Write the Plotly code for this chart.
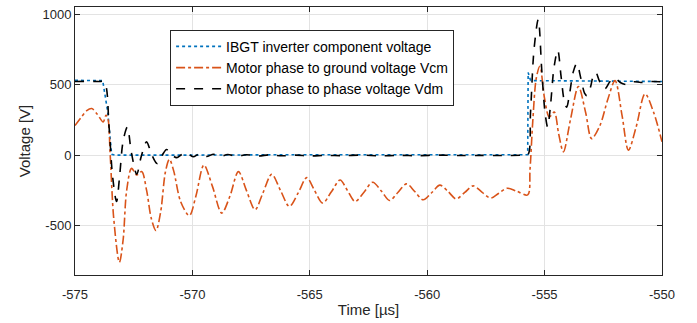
import plotly.graph_objects as go

# IGBT inverter component voltage
t_igbt = [-575, -573.82, -573.6, -573.44, -573.3, -572, -570, -565, -560, -556, -555.72, -555.70, -555.60, -555.5, -554, -552, -550]
v_igbt = [530, 528, 300, 5, 0, 2, 0, 3, 2, 3, 3, 586, 530, 528, 526, 524, 522]

# Motor phase to ground voltage Vcm
t_vcm = [-575, -574.75, -574.5, -574.29, -574.05, -573.8, -573.68, -573.6, -573.5, -573.35, -573.11,
         -572.95, -572.8, -572.59, -572.37, -572.16, -571.95, -571.75, -571.55, -571.35, -571.15,
         -570.98, -570.8, -570.5, -570.13, -569.85, -569.51, -569.15, -568.75, -568.4, -568.04,
         -567.7, -567.33, -567.0, -566.62, -566.25, -565.87, -565.5, -565.13, -564.8, -564.45,
         -564.08, -563.71, -563.4, -563.07, -562.7, -562.32, -561.95, -561.6, -561.25, -560.88,
         -560.52, -560.17, -559.8, -559.46, -559.1, -558.77, -558.4, -558.04, -557.67, -557.3,
         -556.95, -556.59, -556.2, -555.72, -555.62, -555.5, -555.35, -555.2, -555.0, -554.8,
         -554.59, -554.4, -554.2, -553.9, -553.56, -553.25, -553.0, -552.64, -552.3, -552.0,
         -551.7, -551.43, -551.1, -550.72, -550.35, -550]
v_vcm = [210, 265, 315, 330, 290, 235, 282, 260, 0, -450, -760,
         -600, -250, -94, -141, -117, -250, -450, -535, -400, -120,
         -30, -110, -330, -429, -290, -70, -220, -411, -290, -117,
         -250, -387, -270, -136, -250, -364, -270, -160, -250, -340,
         -260, -176, -250, -329, -265, -192, -255, -322, -265, -204,
         -260, -317, -265, -213, -260, -310, -265, -218, -262, -305,
         -270, -235, -255, -282, -100, 250, 550, 630, 400, 270,
         305, 150, 23, 250, 486, 300, 117, 211, 400, 528,
         280, 35, 200, 434, 300, 94]

# Motor phase to phase voltage Vdm
t_vdm = [-575, -574, -573.75, -573.55, -573.4, -573.23, -573.1, -572.95, -572.77, -572.6, -572.37,
         -572.18, -571.95, -571.75, -571.5, -571.3, -571.1, -570.9, -570.67, -570.45, -570.24,
         -569.97, -569.7, -569.4, -569.1, -568.8, -568.5, -568.1, -567.7, -567.2, -566.7, -566.2,
         -565.6, -565.0, -564.3, -563.6, -562.8, -562.0, -561.2, -560.4, -559.5, -558.6, -557.7,
         -556.8, -556.0, -555.72, -555.6, -555.45, -555.27, -555.12, -554.98, -554.87, -554.75,
         -554.6, -554.44, -554.3, -554.16, -554.06, -553.95, -553.78, -553.63, -553.45, -553.3,
         -553.2, -553.05, -552.93, -552.82, -552.65, -552.43, -552.22, -552.0, -551.78, -551.5,
         -551.2, -550.9, -550.5, -550]
v_vdm = [522, 522, 518, 200, -150, -329, -150, 100, 199, 20, -135,
         -10, 94, 10, -60, -5, 40, 5, -18, 5, 16,
         -12, 8, -10, 6, -8, 4, -8, 3, -6, 2, -5,
         0, -6, -2, -4, 0, -5, -2, -4, 0, -3, -2,
         -3, -1, 0, 300, 750, 962, 600, 300, 199, 350,
         620, 744, 560, 380, 340, 420, 590, 650, 540, 440,
         422, 480, 560, 586, 520, 470, 520, 547, 515, 500,
         520, 515, 522, 520]

x_ticks = [-575, -570, -565, -560, -555, -550]
y_ticks = [-500, 0, 500, 1000]

font_family = "Liberation Sans, Arial, sans-serif"
axis_color = "#262626"

fig = go.Figure()
fig.add_trace(go.Scatter(x=t_igbt, y=v_igbt, mode="lines",
                         name="IBGT inverter component voltage",
                         line=dict(color="#0072BD", width=1.6, dash="dot")))
fig.add_trace(go.Scatter(x=t_vcm, y=v_vcm, mode="lines",
                         name="Motor phase to ground voltage Vcm",
                         line=dict(color="#D95319", width=1.6, dash="dashdot", shape="spline", smoothing=0.9)))
fig.add_trace(go.Scatter(x=t_vdm, y=v_vdm, mode="lines",
                         name="Motor phase to phase voltage Vdm",
                         line=dict(color="#000000", width=1.6, dash="dash", shape="spline", smoothing=0.9)))

fig.update_layout(
    width=697, height=323,
    margin=dict(l=75, r=35, t=7, b=48),
    paper_bgcolor="white", plot_bgcolor="white",
    font=dict(family=font_family, size=13, color=axis_color),
    legend=dict(x=0.162, y=0.915, xanchor="left", yanchor="top",
                bgcolor="white", bordercolor=axis_color, borderwidth=1,
                itemwidth=45,
                font=dict(size=14, color="#000000"), tracegroupgap=0),
    showlegend=True,
)
fig.update_xaxes(range=[-575, -550], tickvals=x_ticks, ticktext=[str(v) for v in x_ticks],
                 ticks="inside", ticklen=5, tickcolor=axis_color, mirror="allticks",
                 showline=True, linecolor=axis_color, linewidth=1,
                 showgrid=True, gridcolor="#e3e3e3", gridwidth=1, zeroline=False,
                 ticklabelstandoff=7,
                 title=dict(text="Time [µs]", font=dict(size=15), standoff=3),
                 tickfont=dict(size=13))
fig.update_yaxes(range=[-850, 1050], tickvals=y_ticks, ticktext=[str(v) for v in y_ticks],
                 ticks="inside", ticklen=5, tickcolor=axis_color, mirror="allticks",
                 showline=True, linecolor=axis_color, linewidth=1,
                 showgrid=True, gridcolor="#e3e3e3", gridwidth=1, zeroline=False,
                 title=dict(text="Voltage [V]", font=dict(size=15), standoff=8),
                 tickfont=dict(size=13))

fig.write_html("out.html")
